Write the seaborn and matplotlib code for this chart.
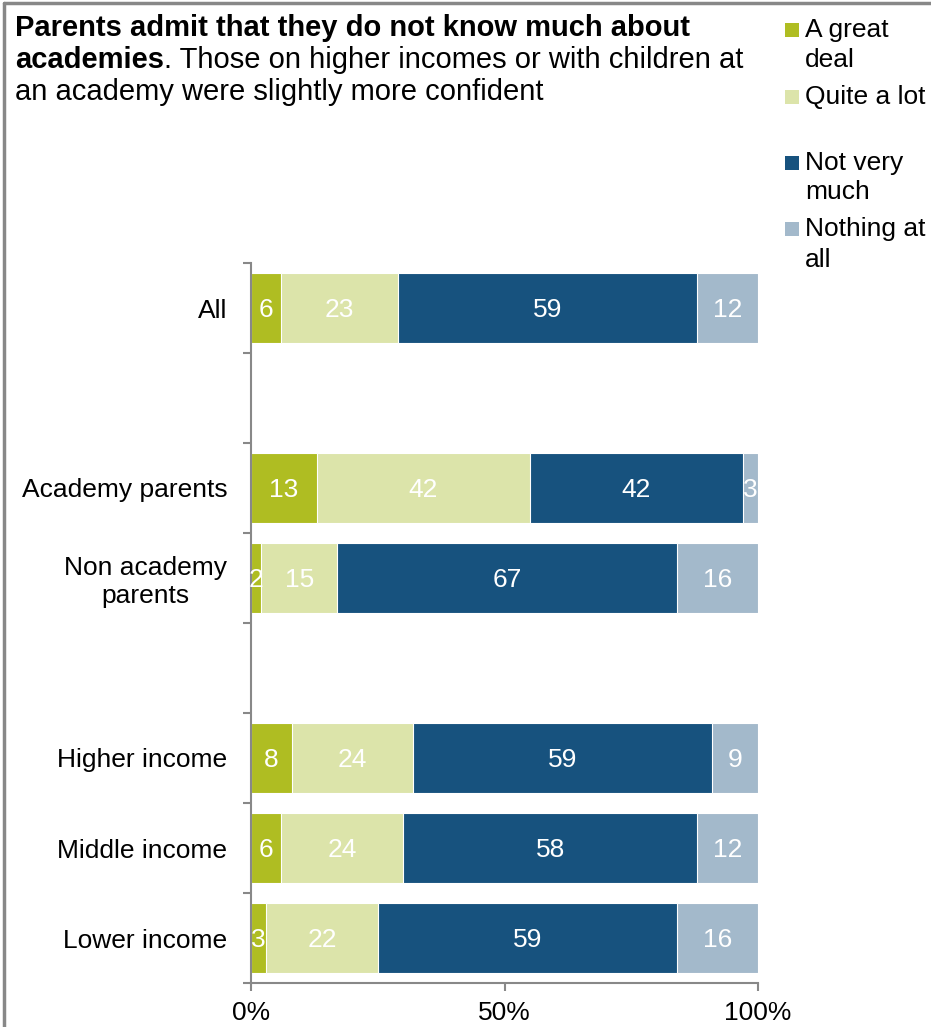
import numpy as np
import pandas as pd
import matplotlib
matplotlib.use("Agg")
import matplotlib.pyplot as plt
from matplotlib.patches import Rectangle
from matplotlib.lines import Line2D
import seaborn as sns

# Survey groups (blank entries are spacer rows between blocks)
groups = ["All", " ", "Academy parents", "Non academy\nparents", "  ",
          "Higher income", "Middle income", "Lower income"]
responses = ["A great\ndeal", "Quite a lot", "Not very\nmuch", "Nothing at\nall"]

great_deal = [6, 13, 2, 8, 6, 3]
quite_a_lot = [23, 42, 15, 24, 24, 22]
not_very_much = [59, 42, 67, 59, 58, 59]
nothing_at_all = [12, 3, 16, 9, 12, 16]
data_groups = ["All", "Academy parents", "Non academy\nparents",
               "Higher income", "Middle income", "Lower income"]

colors = ["#AFBD22", "#DCE4AA", "#17527E", "#A3B9CB"]

sns.set_theme(style="white")
plt.rcParams["font.family"] = ["Liberation Sans", "DejaVu Sans"]
plt.rcParams["text.color"] = "black"
plt.rcParams["xtick.labelcolor"] = "black"
plt.rcParams["ytick.labelcolor"] = "black"
FS = 19
TFS = 21

df = pd.DataFrame({"group": data_groups,
                   "g": great_deal, "q": quite_a_lot,
                   "n": not_very_much, "z": nothing_at_all})
series = ["g", "q", "n", "z"]
cum = df[series].cumsum(axis=1)

fig = plt.figure(figsize=(9.31, 10.27), dpi=100)
ax = fig.add_axes([251 / 931, 1 - 983 / 1027, (758 - 251) / 931, (983 - 263) / 1027])

# Stacked bars: draw cumulative totals from the outermost segment inward
for i in reversed(range(4)):
    col = series[i]
    sns.barplot(x=cum[col], y=df["group"], order=groups, color=colors[i],
                saturation=1, width=0.78, orient="h", ax=ax,
                edgecolor="white", linewidth=0.8)

# Segment value labels
for r, grp in enumerate(data_groups):
    ypos = groups.index(grp)
    left = 0
    for col in series:
        v = df.loc[r, col]
        ax.text(left + v / 2, ypos + 0.02, f"{v}", ha="center", va="center",
                color="white", fontsize=FS)
        left += v

ax.set_xlim(0, 100)
ax.set_ylim(len(groups) - 0.5, -0.5)
ax.set_xlabel("")
ax.set_ylabel("")

ax.set_xticks([0, 50, 100])
ax.set_xticklabels(["0%", "50%", "100%"], fontsize=FS)
ax.tick_params(axis="x", direction="out", length=6, width=1.5, color="#888888",
               pad=7, bottom=True)

ax.set_yticks(range(len(groups)))
ax.set_yticklabels(groups, fontsize=FS, multialignment="center")
ax.set_yticks(np.arange(-0.5, len(groups), 1.0), minor=True)
ax.tick_params(axis="y", which="major", length=0, pad=17)
ax.tick_params(axis="y", which="minor", direction="out", length=6, width=1.5,
               color="#888888", left=True)

for side in ["top", "right"]:
    ax.spines[side].set_visible(False)
for side in ["left", "bottom"]:
    ax.spines[side].set_color("#888888")
    ax.spines[side].set_linewidth(1.5)

# Title: bold lead-in followed by regular text
fig.canvas.draw()
renderer = fig.canvas.get_renderer()
x0 = 15 / 931
line_y = [1 - 28 / 1027, 1 - 60 / 1027, 1 - 92 / 1027]
fig.text(x0, line_y[0], "Parents admit that they do not know much about",
         fontsize=TFS, fontweight="bold", va="center", ha="left")
t_bold = fig.text(x0, line_y[1], "academies", fontsize=TFS, fontweight="bold",
                  va="center", ha="left")
bb = t_bold.get_window_extent(renderer=renderer)
fig.text(bb.x1 / fig.bbox.width, line_y[1],
         ". Those on higher incomes or with children at",
         fontsize=TFS, va="center", ha="left")
fig.text(x0, line_y[2], "an academy were slightly more confident",
         fontsize=TFS, va="center", ha="left")

# Legend
leg_rows = [(30, 60), (97,), (163, 192), (229, 260)]
for lab, c, rows in zip(responses, colors, leg_rows):
    ytop = rows[0]
    fig.patches.append(Rectangle((785 / 931, 1 - (ytop + 7) / 1027), 14 / 931, 14 / 1027,
                                 transform=fig.transFigure, facecolor=c,
                                 edgecolor="none"))
    for k, line in enumerate(lab.split("\n")):
        fig.text(805 / 931, 1 - rows[k] / 1027, line, fontsize=FS,
                 va="center", ha="left")

# Figure frame (top and left edges)
fig.lines.append(Line2D([4 / 931, 1], [1 - 3 / 1027, 1 - 3 / 1027],
                        transform=fig.transFigure, color="#888888", lw=2.5))
fig.lines.append(Line2D([4 / 931, 4 / 931], [0, 1 - 3 / 1027],
                        transform=fig.transFigure, color="#888888", lw=2.5))

fig.savefig("out.png", dpi=100, facecolor="white")
